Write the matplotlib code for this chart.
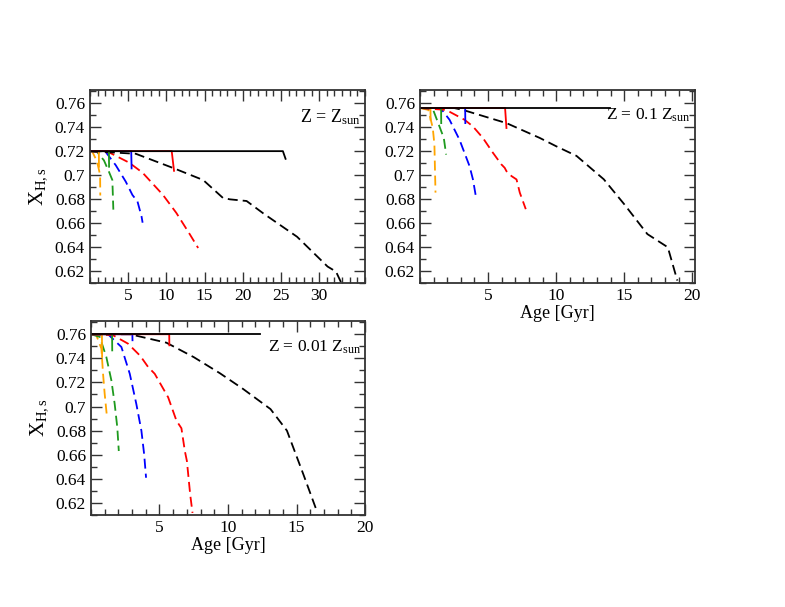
import matplotlib
matplotlib.use("Agg")
import matplotlib.pyplot as plt
from matplotlib.ticker import MultipleLocator

plt.rcParams['font.family'] = ['Liberation Serif', 'DejaVu Serif']
plt.rcParams['mathtext.fontset'] = 'custom'
plt.rcParams['mathtext.rm'] = 'Liberation Serif'
plt.rcParams['mathtext.it'] = 'Liberation Serif:italic'

colors = ['#FFA500', '#1E9A1E', '#0000FF', '#FF0000', '#000000']

# ---------------- Panel 1: Z = Zsun ----------------
p1_solid_x = [
    [0, 1.16, 1.18],
    [0, 2.48, 2.5],
    [0, 5.4, 5.45],
    [0, 10.7, 11.0],
    [0, 25.25, 25.6],
]
p1_solid_y = [
    [0.72, 0.72, 0.707],
    [0.72, 0.72, 0.707],
    [0.72, 0.72, 0.7056],
    [0.72, 0.72, 0.7036],
    [0.72, 0.72, 0.7136],
]
p1_dash_x = [
    [0, 0.28, 0.94, 1.33, 1.35],
    [0, 0.95, 1.83, 2.49, 2.93, 3.06],
    [0, 2.05, 3.37, 4.69, 5.56, 6.22, 6.75, 6.89],
    [0, 2.49, 5.13, 6.89, 9.54, 11.3, 13.06, 14.16],
    [0, 6.0, 10.86, 14.82, 17.4, 18.3, 20.5, 22.7, 27.1, 31.1, 32.2, 32.9],
]
p1_dash_y = [
    [0.72, 0.72, 0.7111, 0.700, 0.683],
    [0.72, 0.7192, 0.7123, 0.7027, 0.6959, 0.6712],
    [0.72, 0.7194, 0.7083, 0.6945, 0.6834, 0.678, 0.6655, 0.6603],
    [0.72, 0.719, 0.7104, 0.702, 0.6836, 0.6685, 0.6507, 0.6392],
    [0.72, 0.7178, 0.706, 0.6959, 0.681, 0.6798, 0.6784, 0.668, 0.6486, 0.6237, 0.6195, 0.61],
]

# ---------------- Panel 2: Z = 0.1 Zsun ----------------
p2_solid_x = [
    [0, 0.77, 0.78],
    [0, 1.55, 1.56],
    [0, 3.32, 3.33],
    [0, 6.25, 6.35],
    [0, 13.95],
]
p2_solid_y = [
    [0.756, 0.756, 0.7462],
    [0.756, 0.756, 0.7434],
    [0.756, 0.756, 0.7434],
    [0.756, 0.756, 0.7393],
    [0.756, 0.756],
]
p2_dash_x = [
    [0, 0.62, 0.94, 1.06, 1.14],
    [0, 0.94, 1.43, 1.75, 1.92],
    [0, 1.55, 2.17, 2.9, 3.64, 3.89, 4.14],
    [0, 1.92, 3.27, 3.89, 4.62, 5.36, 5.98, 6.22, 6.35, 6.72, 7.09, 7.33, 7.77],
    [0, 2.5, 3.15, 6.35, 8.8, 10.0, 11.5, 13.5, 15.0, 16.7, 18.2, 18.9],
]
p2_dash_y = [
    [0.756, 0.7544, 0.7393, 0.7254, 0.6854],
    [0.756, 0.7553, 0.7406, 0.731, 0.7171],
    [0.756, 0.7553, 0.7462, 0.7296, 0.7075, 0.6964, 0.6799],
    [0.756, 0.7544, 0.7462, 0.7406, 0.731, 0.7186, 0.7089, 0.7061, 0.7033, 0.6992, 0.6964, 0.6854, 0.6716],
    [0.756, 0.756, 0.7544, 0.7434, 0.731, 0.7241, 0.716, 0.6965, 0.6757, 0.6508, 0.6398, 0.612],
]

# ---------------- Panel 3: Z = 0.01 Zsun ----------------
p3_solid_x = [
    [0, 0.80, 0.81],
    [0, 1.54, 1.55],
    [0, 3.02, 3.03],
    [0, 5.71, 5.72],
    [0, 12.35],
]
p3_solid_y = [
    [0.76, 0.76, 0.7411],
    [0.76, 0.76, 0.7466],
    [0.76, 0.76, 0.755],
    [0.76, 0.76, 0.7508],
    [0.76, 0.76],
]
p3_dash_x = [
    [0, 0.39, 0.76, 0.88, 1.0, 1.17],
    [0, 0.64, 1.12, 1.49, 1.73, 1.92, 2.03],
    [0, 1.24, 2.22, 2.83, 3.31, 3.68, 3.88, 4.02],
    [0, 1.6, 2.7, 3.6, 4.17, 4.65, 5.63, 6.24, 6.6, 6.85, 7.0, 7.24, 7.41],
    [0, 2.85, 5.5, 7.5, 9.4, 11.1, 13.1, 14.3, 15.5, 16.4],
]
p3_dash_y = [
    [0.76, 0.7592, 0.748, 0.7272, 0.7105, 0.691],
    [0.76, 0.7578, 0.7411, 0.7216, 0.7021, 0.6827, 0.6631],
    [0.76, 0.76, 0.7494, 0.7272, 0.7021, 0.6799, 0.6604, 0.6409],
    [0.76, 0.7592, 0.7522, 0.742, 0.7328, 0.7272, 0.7077, 0.6882, 0.682, 0.6631, 0.6548, 0.627, 0.6117],
    [0.76, 0.76, 0.753, 0.741, 0.7277, 0.7146, 0.6979, 0.680, 0.6437, 0.6158],
]

yticks = [0.62, 0.64, 0.66, 0.68, 0.7, 0.72, 0.74, 0.76]
yticklabels = ['0.62', '0.64', '0.66', '0.68', '0.7', '0.72', '0.74', '0.76']
labels = [r'Z = Z$_{\rm sun}$', r'Z = 0.1 Z$_{\rm sun}$', r'Z = 0.01 Z$_{\rm sun}$']

fig = plt.figure(figsize=(7.85, 6.07), dpi=100)
ax1 = fig.add_axes([0.1146, 0.5338, 0.3504, 0.3179])
ax2 = fig.add_axes([0.5350, 0.5338, 0.3504, 0.3179])
ax3 = fig.add_axes([0.1159, 0.1516, 0.3491, 0.3196])

panels = [
    (ax1, p1_solid_x, p1_solid_y, p1_dash_x, p1_dash_y, (0, 36), [5, 10, 15, 20, 25, 30]),
    (ax2, p2_solid_x, p2_solid_y, p2_dash_x, p2_dash_y, (0, 20.2), [5, 10, 15, 20]),
    (ax3, p3_solid_x, p3_solid_y, p3_dash_x, p3_dash_y, (0, 20.0), [5, 10, 15, 20]),
]

for i, (ax, sx, sy, dx, dy, xl, xt) in enumerate(panels):
    for c, xs, ys in zip(colors, dx, dy):
        ax.plot(xs, ys, color=c, lw=1.3, ls=(0, (5.5, 2.8)), solid_capstyle='butt')
    for c, xs, ys in zip(colors, sx, sy):
        ax.plot(xs, ys, color=c, lw=1.3)
    ax.set_xlim(*xl)
    ax.set_ylim(0.61, 0.771)
    ax.set_xticks(xt)
    ax.xaxis.set_minor_locator(MultipleLocator(1))
    ax.set_yticks(yticks)
    ax.set_yticklabels(yticklabels)
    ax.yaxis.set_minor_locator(MultipleLocator(0.01))
    ax.tick_params(which='both', direction='in', top=True, right=True, labelsize=12.5, width=1.0, color='#333333')
    ax.tick_params(which='major', length=8)
    ax.tick_params(which='minor', length=4)
    for sp in ax.spines.values():
        sp.set_linewidth(1.3)
        sp.set_color('#333333')

ax1.text(0.985, 0.86, labels[0], transform=ax1.transAxes, ha='right', va='center', fontsize=13)
ax2.text(0.985, 0.87, labels[1], transform=ax2.transAxes, ha='right', va='center', fontsize=12.5)
ax3.text(0.985, 0.865, labels[2], transform=ax3.transAxes, ha='right', va='center', fontsize=12.5)

ax1.set_ylabel(r'X$_{\rm H,s}$', fontsize=15, labelpad=4)
ax3.set_ylabel(r'X$_{\rm H,s}$', fontsize=15, labelpad=4)
ax2.set_xlabel('Age [Gyr]', fontsize=13, labelpad=1)
ax3.set_xlabel('Age [Gyr]', fontsize=13, labelpad=1)

fig.savefig('out.png', dpi=100)
